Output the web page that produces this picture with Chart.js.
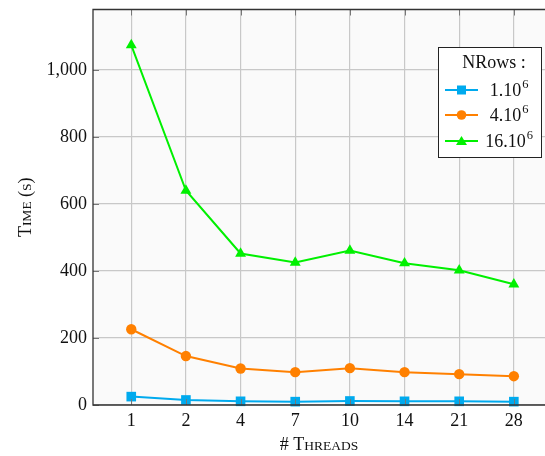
<!DOCTYPE html>
<html><head><meta charset="utf-8">
<script src="https://cdn.jsdelivr.net/npm/chart.js@4"></script>
<style>html,body{margin:0;padding:0;background:#fff;overflow:hidden}#w{width:545px;height:456px}</style>
</head><body><div id="w"><canvas id="c"></canvas></div>
<script>
const threads = ["1","2","4","7","10","14","21","28"];
const rows1 = [25, 15, 11, 10, 12, 11, 11, 10];
const rows4 = [226, 146, 109, 98, 110, 98, 92, 86];
const rows16 = [1074, 640, 452, 425, 461, 423, 402, 360];
const seriesNames = [["1.10","6"],["4.10","6"],["16.10","6"]];
const legendTitle = "NRows :";
const xTitle = "# Threads";
const yTitle = "Time (s)";

const FONT = "'Liberation Serif', 'Times New Roman', serif";
const toPts = arr => arr.map((v,i)=>({x:i,y:v}));
const cols = ["#00aaee","#ff8000","#00f000"];
const shapes = ["rect","circle","triangle"];
const radii = [6.8, 5.2, 6.3];

function smallCapsParts(text){
  const parts=[];
  for(const ch of text){
    const low = ch>='a' && ch<='z';
    parts.push({t: low?ch.toUpperCase():ch, s: low?13.5:18});
  }
  return parts;
}
function drawSmallCaps(ctx, text, cx, cy){
  const parts = smallCapsParts(text);
  let w=0;
  parts.forEach(p=>{ ctx.font=p.s+"px "+FONT; p.w=ctx.measureText(p.t).width; w+=p.w; });
  let x = cx - w/2;
  ctx.textAlign='left'; ctx.textBaseline='alphabetic';
  parts.forEach(p=>{ ctx.font=p.s+"px "+FONT; ctx.fillText(p.t,x,cy); x+=p.w; });
}

const bgPlugin = {
  id:'bg',
  beforeDraw(chart){
    const {ctx, chartArea:a} = chart;
    ctx.save(); ctx.fillStyle='#fafafa'; ctx.fillRect(a.left,a.top,a.right-a.left,a.bottom-a.top); ctx.restore();
  },
  afterDatasetsDraw(chart){
    const {ctx, chartArea:a, scales} = chart;
    ctx.save();
    ctx.strokeStyle='#777'; ctx.lineWidth=1;
    scales.y.ticks.forEach(t=>{ const y=Math.round(scales.y.getPixelForValue(t.value))+0.5; ctx.beginPath(); ctx.moveTo(a.left,y); ctx.lineTo(a.left+6,y); ctx.stroke(); });
    threads.forEach((t,i)=>{ const x=Math.round(scales.x.getPixelForValue(i))+0.5; ctx.beginPath(); ctx.moveTo(x,a.top); ctx.lineTo(x,a.top+6); ctx.moveTo(x,a.bottom); ctx.lineTo(x,a.bottom-6); ctx.stroke(); });
    ctx.strokeStyle='#333'; ctx.lineWidth=1.3;
    ctx.beginPath(); ctx.moveTo(a.right+2,a.top); ctx.lineTo(a.left,a.top); ctx.lineTo(a.left,a.bottom); ctx.lineTo(a.right+2,a.bottom); ctx.stroke();
    ctx.fillStyle='#111';
    drawSmallCaps(ctx, xTitle, (a.left+a.right)/2, 450);
    ctx.save(); ctx.translate(31, (a.top+a.bottom)/2); ctx.rotate(-Math.PI/2);
    drawSmallCaps(ctx, yTitle, 0, 0); ctx.restore();
    const bx=438.5, by=47.5, bw=103, bh=110;
    ctx.fillStyle='#fff'; ctx.fillRect(bx,by,bw,bh);
    ctx.strokeStyle='#222'; ctx.lineWidth=1; ctx.strokeRect(bx,by,bw,bh);
    ctx.fillStyle='#111'; ctx.textBaseline='middle'; ctx.textAlign='center';
    ctx.font = "18px "+FONT;
    ctx.fillText(legendTitle, bx+bw/2+4, by+16);
    const ys=[90,115,141];
    chart.data.datasets.forEach((ds,i)=>{
      const y=ys[i];
      ctx.strokeStyle=ds.borderColor; ctx.lineWidth=2;
      ctx.beginPath(); ctx.moveTo(445,y); ctx.lineTo(478,y); ctx.stroke();
      ctx.fillStyle=ds.borderColor;
      const m=461.5;
      if(i===0){ ctx.fillRect(m-4.5,y-4.5,9,9); }
      else if(i===1){ ctx.beginPath(); ctx.arc(m,y,4.8,0,Math.PI*2); ctx.fill(); }
      else { ctx.beginPath(); ctx.moveTo(m,y-5); ctx.lineTo(m+5.5,y+4); ctx.lineTo(m-5.5,y+4); ctx.closePath(); ctx.fill(); }
      ctx.fillStyle='#111';
      ctx.font="18px "+FONT; ctx.textAlign='left';
      const [base,exp]=seriesNames[i];
      const w1=ctx.measureText(base).width;
      ctx.font="12.5px "+FONT;
      const w2=ctx.measureText(exp).width;
      const sx = 509 - (w1+w2+1)/2;
      ctx.font="18px "+FONT; ctx.fillText(base,sx,y+1);
      ctx.font="12.5px "+FONT; ctx.fillText(exp,sx+w1+1,y-5);
    });
    ctx.restore();
  }
};

new Chart(document.getElementById('c'), {
  type:'line',
  data:{ datasets:[
    {label:"1.10^6", data:toPts(rows1)},
    {label:"4.10^6", data:toPts(rows4)},
    {label:"16.10^6", data:toPts(rows16)}
  ].map((d,i)=>Object.assign(d,{borderColor:cols[i],backgroundColor:cols[i],pointBackgroundColor:cols[i],pointBorderColor:cols[i],pointStyle:shapes[i],pointRadius:radii[i],borderWidth:2,pointBorderWidth:0,tension:0,clip:false}))},
  options:{
    responsive:true, maintainAspectRatio:false, animation:false,
    layout:{autoPadding:false, padding:{left:0,right:0,top:9.5,bottom:0}},
    plugins:{legend:{display:false},tooltip:{enabled:false}},
    scales:{
      x:{type:'linear', min:-0.7, max:7.57,
        afterBuildTicks(s){ s.ticks = threads.map((t,i)=>({value:i})); },
        afterFit(s){ s.height = 51; s.paddingLeft=0; s.paddingRight=0; },
        grid:{color:'#c8c8c8', lineWidth:1.2, drawTicks:false},
        border:{display:false},
        ticks:{autoSkip:false, maxRotation:0, padding:5, color:'#111', font:{family:FONT,size:18}, callback:(v,i)=>threads[i]},
        title:{display:false}
      },
      y:{type:'linear', min:0, max:1180,
        afterBuildTicks(s){ s.ticks = [0,200,400,600,800,1000].map(v=>({value:v})); },
        afterFit(s){ s.width = 93; s.paddingTop=0; s.paddingBottom=0; },
        grid:{color:'#c8c8c8', lineWidth:1.2, drawTicks:false},
        border:{display:false},
        ticks:{padding:6, color:'#111', font:{family:FONT,size:18}, callback:v=>v.toLocaleString('en-US')},
        title:{display:false}
      }
    }
  },
  plugins:[bgPlugin]
});
</script></body></html>
